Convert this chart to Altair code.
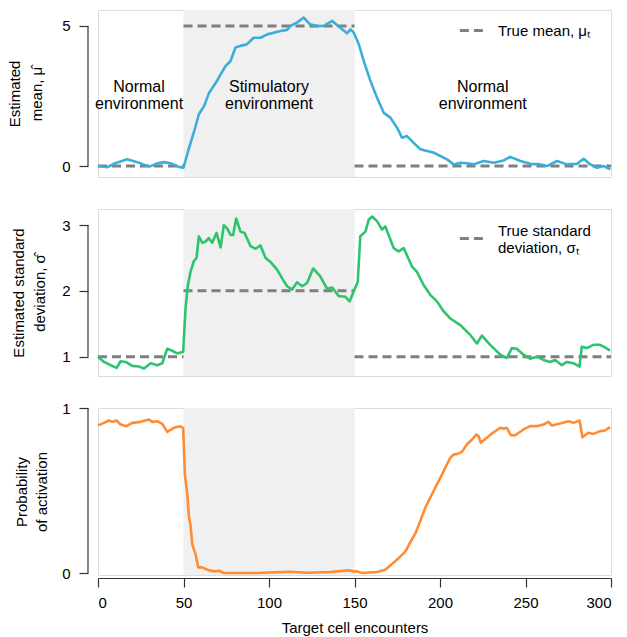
import altair as alt
import pandas as pd

# ---------------- data ----------------
enc_ticks = [0, 50, 100, 150, 200, 250, 300]
stim_start, stim_end = 50, 150

mean_x = [0, 5.5, 10, 17, 23, 30, 35, 38.5, 42.4, 47.3, 50, 53, 56, 59, 62, 65, 69, 71.7, 74.6,
          77.5, 80.4, 83.3, 87.2, 91, 95, 99, 102.8, 106.7, 110.6, 112.5, 116.4, 120.3, 124,
          128, 132, 137, 140.8, 145.6, 147.7, 149.6, 152.5, 155.4, 159.3, 163.2, 167.1, 171,
          174.9, 177.8, 180.7, 184.6, 188.5, 192.4, 196.3, 200.2, 204.1, 208, 211.9, 215.8,
          219.7, 225.5, 231.4, 237.2, 241.1, 247, 252.8, 258.7, 262.6, 268.4, 274.3, 280.1,
          284, 287.9, 291.8, 295.7, 299.6]
mean_y = [0.0, -0.04, 0.1, 0.24, 0.14, -0.02, 0.1, 0.14, 0.1, -0.03, -0.06, 0.6, 1.19, 1.85,
          2.14, 2.62, 2.98, 3.27, 3.57, 3.75, 4.23, 4.29, 4.35, 4.58, 4.58, 4.7, 4.76, 4.82,
          4.86, 5.0, 5.12, 5.3, 5.06, 5.0, 5.0, 5.18, 4.98, 4.74, 4.88, 4.76, 4.35, 3.75, 3.04,
          2.44, 1.9, 1.73, 1.37, 1.01, 1.07, 0.83, 0.6, 0.54, 0.48, 0.36, 0.24, 0.06, 0.12,
          0.1, 0.06, 0.18, 0.12, 0.2, 0.33, 0.18, 0.08, 0.06, 0.0, 0.18, 0.06, 0.08, 0.26,
          0.06, -0.06, 0.0, -0.12]

sd_x = [0, 3.5, 7.4, 10.9, 13.2, 16.2, 20, 24, 26.9, 30.8, 34.7, 37.6, 40.5, 43.4, 46.3, 49.8,
        51.2, 52.6, 54.1, 56, 57.6, 59, 61, 62.9, 64.8, 66.8, 69.3, 71.7, 73.6, 75.5, 77.5, 79,
        80.8, 83.3, 85.7, 89.2, 92.1, 95, 98, 100.9, 104.8, 107.7, 110.6, 113.5, 116.4, 119.4,
        122.3, 125.8, 130, 134, 136.9, 140.8, 144.7, 147.2, 149.5, 151.9, 153.4, 156.4, 158.3,
        160.3, 163.2, 166.1, 168, 172.9, 175.8, 178.8, 183.6, 186.5, 190.4, 194.3, 198.2,
        202.1, 206, 211.9, 217.7, 221.6, 224.5, 229.4, 235.2, 239.1, 242, 244.9, 248.8, 252.7,
        256.6, 260.5, 264.4, 267.3, 271.2, 274.2, 278.1, 281.6, 282.9, 285.8, 289.7, 293.6,
        296.5, 299.5]
sd_y = [1.0, 0.92, 0.87, 0.83, 0.93, 0.92, 0.86, 0.85, 0.82, 0.9, 0.87, 0.9, 1.12, 1.09, 1.05,
        1.07, 1.74, 2.09, 2.29, 2.45, 2.5, 2.83, 2.73, 2.75, 2.8, 2.73, 2.88, 2.66, 3.0, 2.95,
        2.85, 2.85, 3.1, 2.9, 2.88, 2.68, 2.64, 2.69, 2.5, 2.44, 2.32, 2.19, 2.07, 2.02, 2.13,
        2.07, 2.12, 2.34, 2.22, 2.03, 2.05, 1.92, 1.91, 1.84, 1.99, 2.14, 2.83, 2.9, 3.08,
        3.13, 3.06, 2.93, 2.98, 2.65, 2.6, 2.65, 2.37, 2.29, 2.09, 1.94, 1.84, 1.69, 1.58,
        1.48, 1.33, 1.2, 1.32, 1.18, 1.03, 0.98, 1.13, 1.12, 1.03, 0.97, 1.0, 0.95, 0.92, 0.95,
        0.87, 0.92, 0.9, 0.85, 1.15, 1.13, 1.18, 1.18, 1.14, 1.09]

prob_x = [0, 3.5, 6.4, 8.4, 10.9, 13.2, 16.7, 20, 24.9, 29.8, 31.7, 34.7, 37.6, 40.5, 44.4,
          47.9, 49.8, 50.8, 52.2, 53.2, 54.1, 55.1, 57, 58.6, 60.9, 63.9, 67.8, 70.7, 73.6, 93,
          112.5, 122.3, 135.9, 146.6, 149.5, 151.5, 154.4, 163.2, 168, 171.9, 175.8, 179.7,
          182.6, 185.6, 188.5, 191.4, 194.3, 197.2, 200.2, 203.1, 206, 208, 210.3, 212.8, 215.7,
          218.7, 221.2, 222.6, 223.9, 227.4, 230.3, 235.2, 237.2, 239.1, 241.4, 244, 248.8,
          252.7, 256.6, 260.5, 263.4, 265.4, 270.3, 275.1, 278.1, 281.6, 283.3, 286.8, 289.7,
          293.6, 296.5, 299.5]
prob_y = [0.895, 0.91, 0.924, 0.916, 0.924, 0.9, 0.89, 0.91, 0.916, 0.93, 0.916, 0.92, 0.904,
          0.855, 0.88, 0.89, 0.88, 0.6, 0.48, 0.34, 0.29, 0.175, 0.115, 0.034, 0.034, 0.02,
          0.01, 0.014, 0.0, 0.0, 0.008, 0.002, 0.006, 0.016, 0.01, 0.01, 0.0, 0.006, 0.02,
          0.054, 0.09, 0.13, 0.185, 0.24, 0.316, 0.396, 0.456, 0.517, 0.577, 0.638, 0.698,
          0.718, 0.722, 0.734, 0.779, 0.809, 0.839, 0.83, 0.789, 0.819, 0.845, 0.88, 0.875,
          0.88, 0.835, 0.835, 0.87, 0.89, 0.89, 0.9, 0.916, 0.894, 0.906, 0.92, 0.91, 0.924,
          0.823, 0.85, 0.843, 0.86, 0.864, 0.884]

# true parameter (piecewise constant) segments
seg_x0 = [0, 50, 150]
seg_x1 = [50, 150, 300]
true_mean = [0, 5, 0]
true_sd = [1, 2, 1]

ann_x = [24, 100, 225]
ann_y = [2.83, 2.83, 2.83]
ann_text = ["Normal\nenvironment", "Stimulatory\nenvironment", "Normal\nenvironment"]

assert len(mean_x) == len(mean_y)
assert len(sd_x) == len(sd_y)
assert len(prob_x) == len(prob_y)

# ---------------- styling ----------------
W, H = 513, 167
FONT = "Liberation Sans"
GRAY = "#7f7f7f"
SHADE = "#f0f0f0"
AX = "#333333"

xscale = alt.Scale(domain=[0, 300], nice=False, zero=False)


def y_axis(ticks, title, tpad, tlh):
    return alt.Axis(values=ticks, title=title, format="d", domain=False, grid=False, offset=10,
                    tickSize=9, tickWidth=1.2, tickColor=AX, labelFontSize=15,
                    labelColor="black", labelPadding=9, titleFontSize=15,
                    titleFontWeight="normal", titleColor="black", titlePadding=tpad,
                    titleLineHeight=tlh, labelFont=FONT, titleFont=FONT)


x_axis = alt.Axis(values=enc_ticks, title="Target cell encounters", domainColor=AX,
                  domainWidth=1.2, tickColor=AX, tickWidth=1.2, tickSize=9, offset=3,
                  grid=False, labelFontSize=15, labelColor="black", labelPadding=8,
                  titleFontSize=15, titleFontWeight="normal", titleColor="black",
                  titlePadding=10, labelFont=FONT, titleFont=FONT)


def base_layers(ydom, yticks, ytitle, show_x, tpad, tlh):
    yscale = alt.Scale(domain=ydom, nice=False, zero=False)
    yax = y_axis(yticks, ytitle, tpad, tlh)
    xax = x_axis if show_x else None
    shade_df = pd.DataFrame({"x0": [stim_start], "x1": [stim_end],
                             "ylo": [ydom[0]], "yhi": [ydom[1]]})
    shade = alt.Chart(shade_df).mark_rect(color=SHADE).encode(
        x=alt.X("x0:Q", scale=xscale, axis=xax), x2="x1:Q",
        y=alt.Y("ylo:Q", scale=yscale, axis=yax), y2="yhi:Q")
    spine_df = pd.DataFrame({"a": [yticks[0]], "b": [yticks[-1]]})
    spine = alt.Chart(spine_df).mark_rule(color=AX, strokeWidth=1.2).encode(
        x=alt.value(-10), y=alt.Y("a:Q", scale=yscale, axis=yax), y2="b:Q")
    return yscale, yax, xax, shade, spine


def series_line(xs, ys, color, yscale, yax, xax):
    df = pd.DataFrame({"x": xs, "y": ys})
    return alt.Chart(df).mark_line(color=color, strokeWidth=2.6, strokeJoin="round").encode(
        x=alt.X("x:Q", scale=xscale, axis=xax), y=alt.Y("y:Q", scale=yscale, axis=yax))


def truth_rule(true_vals, label, yscale, yax, xax, legend):
    df = pd.DataFrame({"x0": seg_x0, "x1": seg_x1, "y": true_vals, "label": [label] * 3})
    return alt.Chart(df).mark_rule(color=GRAY, strokeWidth=3).encode(
        x=alt.X("x0:Q", scale=xscale, axis=xax), x2="x1:Q",
        y=alt.Y("y:Q", scale=yscale, axis=yax),
        strokeDash=alt.StrokeDash("label:N", scale=alt.Scale(domain=[label], range=[[9, 5]]),
                                  legend=legend))


def legend(ly, baseline="middle"):
    return alt.Legend(orient="none", legendX=360, legendY=ly, title=None,
                      symbolType="stroke", symbolSize=540, symbolStrokeWidth=3,
                      symbolStrokeColor=GRAY, labelFontSize=15, labelFont=FONT,
                      labelColor="black", labelOffset=13, labelLimit=300,
                      labelBaseline=baseline, labelExpr="split(datum.label, '|')")


# ---- panel 1: estimated mean ----
ys1, yax1, xax1, shade1, spine1 = base_layers([-0.39, 5.57], [0, 5],
                                              ["Estimated", "mean, \u03bc\u0302"], False, 17, 22)
truth1 = truth_rule(true_mean, "True mean, \u03bc\u209c", ys1, yax1, xax1, legend(7))
line1 = series_line(mean_x, mean_y, "#3aaed8", ys1, yax1, xax1)
ann = alt.Chart(pd.DataFrame({"x": ann_x, "y": ann_y, "t": ann_text})).mark_text(
    fontSize=16, font=FONT, color="black", align="center", baseline="middle",
    lineBreak="\n", lineHeight=17).encode(
    x=alt.X("x:Q", scale=xscale, axis=xax1), y=alt.Y("y:Q", scale=ys1, axis=yax1), text="t:N")
p1 = alt.layer(shade1, truth1, line1, spine1, ann).properties(width=W, height=H)

# ---- panel 2: estimated standard deviation ----
ys2, yax2, xax2, shade2, spine2 = base_layers([0.706, 3.244], [1, 2, 3],
                                              ["Estimated standard", "deviation, \u03c3\u0302"],
                                              False, 14, 21)
truth2 = truth_rule(true_sd, "True standard|deviation, \u03c3\u209c", ys2, yax2, xax2,
                    legend(16, "bottom"))
line2 = series_line(sd_x, sd_y, "#2ec46e", ys2, yax2, xax2)
p2 = alt.layer(shade2, truth2, line2, spine2).properties(width=W, height=H)

# ---- panel 3: probability of activation ----
ys3, yax3, xax3, shade3, spine3 = base_layers([-0.012, 1.0], [0, 1],
                                              ["Probability", "of activation"], True, 12, 20)
line3 = series_line(prob_x, prob_y, "#ff8c33", ys3, yax3, xax3)
p3 = alt.layer(shade3, line3, spine3).properties(width=W, height=H)

chart = alt.vconcat(p1, p2, p3, spacing=32, bounds="flush").resolve_scale(
    strokeDash="independent").resolve_legend(strokeDash="independent").properties(
    padding={"left": 7, "top": 9, "right": 5, "bottom": 5}
).configure_view(stroke=None).configure(font=FONT)

chart.save("out.html", embed_options={"renderer": "svg", "actions": False})
